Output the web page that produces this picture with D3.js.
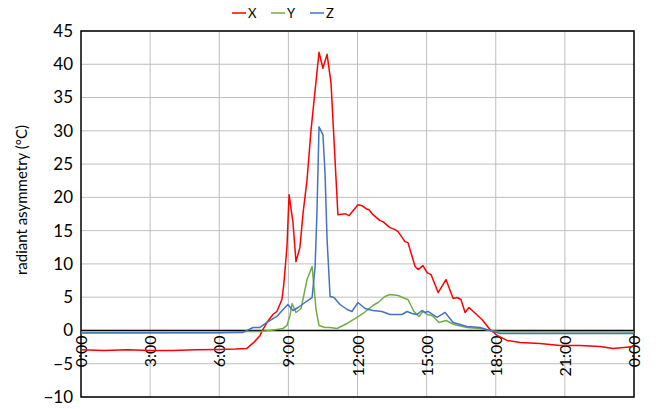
<!DOCTYPE html>
<html>
<head>
<meta charset="utf-8">
<script src="https://cdn.jsdelivr.net/npm/d3@7"></script>
<style>
  body { margin: 0; background: #fff; }
  text { font-family: Lato, "Open Sans", sans-serif; fill: #000; }
</style>
</head>
<body>
<svg id="chart" width="656" height="409"></svg>
<script>
// hours of day, radiant asymmetry values
const xHours = [0,1,2,3,4,5,6,6.7,7.2,7.5,7.77,7.9,8.1,8.33,8.5,8.72,8.8,8.94,9.03,9.2,9.33,9.5,9.64,9.81,9.98,10.16,10.33,10.5,10.68,10.85,11.15,11.46,11.63,12.02,12.2,12.37,12.5,12.67,12.98,13.1,13.41,13.63,13.76,14.06,14.19,14.5,14.63,14.84,15.02,15.19,15.5,15.84,16.15,16.32,16.49,16.67,16.84,17.4,17.75,18.06,18.49,19.05,19.92,20.79,21.66,22.53,23.09,23.57,24];
const xValues = [-2.9,-3.0,-2.9,-3.0,-3.0,-2.9,-2.85,-2.8,-2.7,-1.8,-0.75,0.15,1.35,2.4,2.85,4.65,6.9,12.6,20.4,16.2,10.35,12.45,17.7,22.65,30.0,36.1,41.8,39.4,41.5,37.2,17.4,17.55,17.25,18.9,18.75,18.3,18.15,17.4,16.5,16.35,15.45,15.15,14.85,13.35,13.2,9.6,9.15,9.75,8.7,8.4,5.7,7.65,4.8,4.95,4.65,2.7,3.45,1.65,0.15,-0.75,-1.5,-1.8,-1.95,-2.25,-2.25,-2.4,-2.7,-2.55,-2.4];

const yHours = [0,2,4,6,7.2,7.77,8.2,8.77,8.94,9.07,9.16,9.33,9.55,9.81,10.03,10.2,10.33,10.59,10.81,11.11,11.55,11.98,12.24,12.67,12.89,13.19,13.41,13.76,14.06,14.19,14.45,14.67,14.84,15.02,15.23,15.54,15.84,16.19,16.75,17.32,17.75,18.19,24];
const yValues = [-0.3,-0.3,-0.3,-0.3,-0.15,-0.15,0,0.3,0.75,2.25,4.05,2.7,3.3,7.65,9.6,3.15,0.75,0.45,0.45,0.3,1.05,1.95,2.55,3.75,4.2,5.1,5.4,5.25,4.8,4.65,2.85,2.1,2.85,2.4,2.25,1.2,1.5,0.9,0.45,0.3,0,-0.2,-0.25];

const zHours = [0,6,7.03,7.47,7.77,8.07,8.5,8.77,8.98,9.2,9.42,9.72,10.03,10.16,10.24,10.33,10.46,10.5,10.59,10.68,10.81,10.98,11.24,11.55,11.76,12.02,12.33,12.67,13.06,13.41,13.93,14.15,14.37,14.58,14.8,14.93,15.06,15.45,15.8,16.15,16.75,17.32,17.75,18.19,24];
const zValues = [-0.4,-0.35,-0.3,0.45,0.45,1.2,2.1,3.15,3.9,3.0,3.45,4.2,4.95,9.6,17.7,30.6,29.7,29.4,23.7,13.65,5.1,4.95,3.9,3.15,2.85,4.2,3.3,3.0,2.85,2.4,2.4,2.85,2.55,2.4,3.0,2.7,2.85,1.95,2.7,1.2,0.6,0.45,0,-0.45,-0.45];

const xTicks = [0,3,6,9,12,15,18,21,24];
const xTickLabels = ['0:00','3:00','6:00','9:00','12:00','15:00','18:00','21:00','0:00'];
const yTicks = d3.range(-10, 50, 5);

const series = [
  { name: 'X', hours: xHours, values: xValues, color: '#ff0000' },
  { name: 'Y', hours: yHours, values: yValues, color: '#70ad47' },
  { name: 'Z', hours: zHours, values: zValues, color: '#4472c4' }
];

const svg = d3.select('#chart');
const plotLeft = 81, plotRight = 634, plotTop = 31, plotBottom = 397;

const x = d3.scaleLinear().domain([0, 24]).range([plotLeft, plotRight]);
const y = d3.scaleLinear().domain([-10, 45]).range([plotBottom, plotTop]);

// grid
svg.append('g')
    .selectAll('line')
    .data(yTicks)
    .join('line')
      .attr('x1', plotLeft).attr('x2', plotRight)
      .attr('y1', d => y(d)).attr('y2', d => y(d))
      .attr('stroke', '#bfbfbf').attr('stroke-width', 1);

svg.append('g')
    .selectAll('line')
    .data(xTicks.slice(1, -1))
    .join('line')
      .attr('x1', d => x(d)).attr('x2', d => x(d))
      .attr('y1', plotTop).attr('y2', plotBottom)
      .attr('stroke', '#bfbfbf').attr('stroke-width', 1);

// y axis labels
svg.append('g')
    .attr('transform', `translate(${plotLeft},0)`)
    .call(d3.axisLeft(y).tickValues(yTicks).tickSize(0).tickPadding(8))
    .call(g => g.select('.domain').remove())
    .selectAll('text')
      .style('font-size', '17px')
      .style('font-family', 'Lato, "Open Sans", sans-serif');

// x axis labels, sitting below the zero line
svg.append('g')
    .attr('transform', `translate(0,${y(0)})`)
    .call(d3.axisBottom(x).tickValues(xTicks).tickSize(0).tickFormat((d, i) => xTickLabels[i]))
    .call(g => g.select('.domain').remove())
    .selectAll('text')
      .style('font-size', '16px')
      .style('font-family', 'Lato, "Open Sans", sans-serif')
      .attr('text-anchor', 'end')
      .attr('transform', 'rotate(-90)')
      .attr('x', -5)
      .attr('y', 0)
      .attr('dy', '0.35em');

// frame and zero line
svg.append('rect')
    .attr('x', plotLeft).attr('y', plotTop)
    .attr('width', plotRight - plotLeft).attr('height', plotBottom - plotTop)
    .attr('fill', 'none').attr('stroke', '#000').attr('stroke-width', 1.5);

svg.append('line')
    .attr('x1', plotLeft).attr('x2', plotRight)
    .attr('y1', y(0)).attr('y2', y(0))
    .attr('stroke', '#000').attr('stroke-width', 1.5);

// series
const line = d3.line()
    .x(d => x(d[0]))
    .y(d => y(d[1]));

svg.append('g')
    .selectAll('path')
    .data(series)
    .join('path')
      .attr('d', s => line(s.hours.map((h, i) => [h, s.values[i]])))
      .attr('fill', 'none')
      .attr('stroke', s => s.color)
      .attr('stroke-width', 1.5)
      .attr('stroke-linejoin', 'round');

// y title
svg.append('text')
    .attr('transform', `translate(27,${(plotTop + plotBottom) / 2 - 14}) rotate(-90)`)
    .attr('text-anchor', 'middle')
    .style('font-size', '15px')
    .text('radiant asymmetry (°C)');

// legend
const legend = svg.append('g')
    .selectAll('g')
    .data(series)
    .join('g')
      .attr('transform', (d, i) => `translate(${232 + i * 39},13)`);

legend.append('line')
    .attr('x1', 0).attr('x2', 14)
    .attr('stroke', d => d.color).attr('stroke-width', 1.5);

legend.append('text')
    .attr('x', 16)
    .attr('dy', '0.35em')
    .style('font-size', '13px')
    .text(d => d.name);
</script>
</body>
</html>
